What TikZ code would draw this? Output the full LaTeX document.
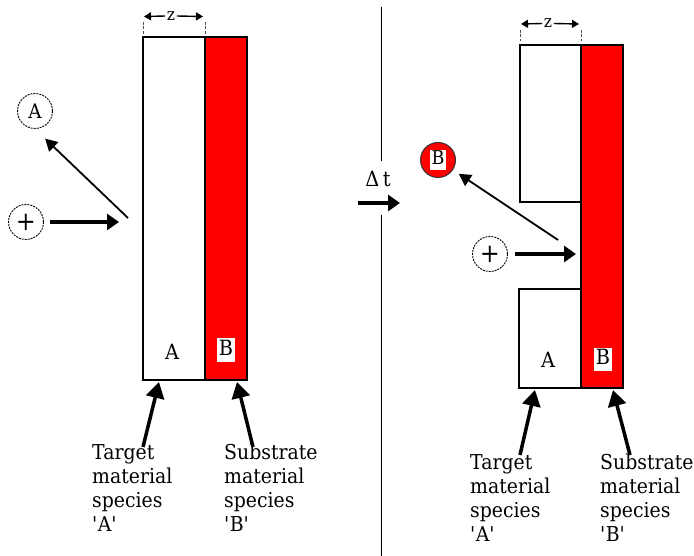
\documentclass[tikz,border=0pt]{standalone}
\usepackage{fontspec}
\setmainfont[FakeStretch=0.92]{DejaVu Serif}
\usetikzlibrary{arrows.meta}
\definecolor{barred}{RGB}{255,0,0}
\begin{document}
\begin{tikzpicture}[x=1pt,y=-1pt,
  whitebar/.style={draw=black, fill=white, line width=1.2pt},
  redbar/.style={draw=black, fill=barred, line width=1.2pt},
  thickarrow/.style={line width=3.5pt, -{Triangle[length=12pt,width=16pt]}},
  thinarrow/.style={line width=1.8pt, -{Triangle[length=12pt,width=13pt]}},
  bigarrow/.style={line width=3.5pt, -{Triangle[length=16pt,width=18pt]}},
  dimarrow/.style={line width=1.4pt, -{Triangle[length=7pt,width=8pt]}},
  dimtick/.style={line width=1pt, black!70, dash pattern=on 3pt off 1.5pt},
  particle/.style={circle, draw, dash pattern=on 2pt off 1pt, line width=0.9pt, minimum size=35pt, inner sep=0pt, font=\fontsize{20}{20}\selectfont},
  redparticle/.style={circle, draw=black!80, fill=barred, line width=1pt, minimum size=35pt, inner sep=0pt},
  boxlbl/.style={fill=white, inner xsep=2pt, inner ysep=0pt, text height=17pt, text depth=6pt, font=\fontsize{21}{21}\selectfont},
  barlbl/.style={inner sep=0pt, font=\fontsize{21}{21}\selectfont},
  lbl/.style={font=\fontsize{20.5}{24}\selectfont, align=left, anchor=north west, inner sep=0pt},
  zlbl/.style={inner sep=1.5pt, font=\fontsize{17}{17}\selectfont},
]
\useasboundingbox (0,0) rectangle (694,556);

% ---------------- left panel ----------------
\node[whitebar, anchor=north west, minimum width=62pt, minimum height=343pt, inner sep=0pt, outer sep=0pt] (targetL) at (143,37) {};
\node[redbar, anchor=north west, minimum width=42pt, minimum height=343pt, inner sep=0pt, outer sep=0pt] (subL) at (205,37) {};
\node[barlbl] (aL) at (172,352) {A};
\node[boxlbl] (bL) at (226,350) {B};

% dimension z
\coordinate (zLl) at (144,16.5);
\coordinate (zLr) at (203,16.5);
\node[zlbl] (zL) at (171,16) {z};
\draw[dimarrow] (zL.west) -- (zLl);
\draw[dimarrow] (zL.east) -- (zLr);
\coordinate (tLa1) at (143,22); \coordinate (tLa2) at (143,34);
\coordinate (tLb1) at (205,22); \coordinate (tLb2) at (205,34);
\draw[dimtick] (tLa1) -- (tLa2);
\draw[dimtick] (tLb1) -- (tLb2);

% particles
\node[particle, font=\fontsize{26}{26}\selectfont] (plusL) at (26,222) {+};
\node[particle] (atomA) at (35,111) {A};
\coordinate (hitL) at (119,222);
\coordinate (sputL) at (128,218);
\draw[thickarrow, shorten <=6pt] (plusL) -- (hitL);
\draw[thinarrow, shorten >=14pt] (sputL) -- (atomA.south);

% labels
\node[lbl] (tgtL) at (92,444) {Target\\material\\species\\\textquotesingle A\textquotesingle};
\node[lbl] (subtxtL) at (224,444) {Substrate\\material\\species\\\textquotesingle B\textquotesingle};
\coordinate (tgtLtail) at (143,447);
\coordinate (tgtLtip) at (159,382);
\coordinate (subLtail) at (253,447);
\coordinate (subLtip) at (237,382);
\draw[bigarrow] (tgtLtail) -- (tgtLtip);
\draw[bigarrow] (subLtail) -- (subLtip);

% ---------------- divider ----------------
\coordinate (d1) at (381,7);
\coordinate (d2) at (381,161);
\coordinate (d3) at (381,215);
\coordinate (d4) at (381,556);
\draw[line width=1pt] (d1) -- (d2);
\draw[line width=1pt] (d3) -- (d4);
\node[inner sep=0pt, font=\fontsize{21}{21}\selectfont] (dt) at (378,179) {Δ\,t};
\coordinate (dtA) at (358,203);
\coordinate (dtB) at (400,203);
\draw[thickarrow] (dtA) -- (dtB);

% ---------------- right panel ----------------
\node[whitebar, anchor=north west, minimum width=61pt, minimum height=157pt, inner sep=0pt, outer sep=0pt] (targetRtop) at (520,45) {};
\node[whitebar, anchor=north west, minimum width=62pt, minimum height=99pt, inner sep=0pt, outer sep=0pt] (targetRbot) at (519,289) {};
\node[redbar, anchor=north west, minimum width=42pt, minimum height=343pt, inner sep=0pt, outer sep=0pt] (subR) at (581,45) {};
\node[barlbl] (aR) at (548,360) {A};
\node[boxlbl] (bR) at (603,359) {B};

% dimension z
\coordinate (zRl) at (521,24);
\coordinate (zRr) at (579,24);
\node[zlbl] (zR) at (548,23.5) {z};
\draw[dimarrow] (zR.west) -- (zRl);
\draw[dimarrow] (zR.east) -- (zRr);
\coordinate (tRa1) at (520,30); \coordinate (tRa2) at (520,41);
\coordinate (tRb1) at (581,30); \coordinate (tRb2) at (581,41);
\draw[dimtick] (tRa1) -- (tRa2);
\draw[dimtick] (tRb1) -- (tRb2);

% particles
\node[redparticle] (atomB) at (438,160) {};
\node[boxlbl, text height=15pt, text depth=5pt, inner xsep=1.5pt, font=\fontsize{19}{19}\selectfont] (atomBl) at (atomB) {B};
\node[particle, font=\fontsize{26}{26}\selectfont] (plusR) at (490,254) {+};
\coordinate (hitR) at (576,254);
\coordinate (sputR) at (558,240);
\draw[thickarrow, shorten <=7pt] (plusR) -- (hitR);
\draw[thinarrow, shorten >=7pt] (sputR) -- (atomB);

% labels
\node[lbl] (tgtR) at (470,454) {Target\\material\\species\\\textquotesingle A\textquotesingle};
\node[lbl] (subtxtR) at (600,454) {Substrate\\material\\species\\\textquotesingle B\textquotesingle};
\coordinate (tgtRtail) at (520,455);
\coordinate (tgtRtip) at (535,390);
\coordinate (subRtail) at (630,455);
\coordinate (subRtip) at (613,390);
\draw[bigarrow] (tgtRtail) -- (tgtRtip);
\draw[bigarrow] (subRtail) -- (subRtip);
\end{tikzpicture}
\end{document}
